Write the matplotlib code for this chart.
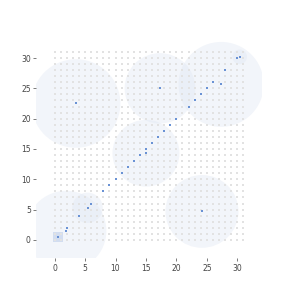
import numpy as np
import matplotlib
matplotlib.use("Agg")
import matplotlib.pyplot as plt
from matplotlib.patches import Circle, Rectangle

# --- DATA ---
grid_n = 32  # lattice 0..31 on both axes

diag_x = [2, 4, 6, 8, 9, 10, 11, 12, 13, 14, 15, 16, 17, 18, 19, 20, 22, 23, 24, 25, 26, 28, 30]
diag_y = [2, 4, 6, 8, 9, 10, 11, 12, 13, 14, 15, 16, 17, 18, 19, 20, 22, 23, 24, 25, 26, 28, 30]

center_x = [1.9, 5.4, 15.0, 3.5, 17.3, 27.35, 24.2, 30.4]
center_y = [1.5, 5.3, 14.3, 22.5, 25.0, 25.65, 4.7, 30.2]
center_r = [6.6, 2.5, 5.5, 7.3, 5.8, 7.0, 6.0, 1.2]

seed_x = [0.55]
seed_y = [0.5]
seed_side = 1.6

ticks = [0, 5, 10, 15, 20, 25, 30]

# --- PLOT ---
fig = plt.figure(figsize=(2.91, 2.91), dpi=100)
ax = fig.add_axes([0.125, 0.113, 0.774, 0.771])

for cx, cy, r in zip(center_x, center_y, center_r):
    ax.add_patch(Circle((cx, cy), r, facecolor="#dfe6f3", edgecolor="none", alpha=0.4, zorder=1))

for sx, sy in zip(seed_x, seed_y):
    ax.add_patch(Rectangle((sx - seed_side / 2, sy - seed_side / 2), seed_side, seed_side,
                           facecolor="#c5d3ec", edgecolor="none", alpha=0.7, zorder=2))

gx, gy = np.meshgrid(np.arange(grid_n), np.arange(grid_n))
ax.scatter(gx.ravel(), gy.ravel(), s=1.4, marker="s", color="#e2e2e2", linewidths=0, zorder=3)

ax.scatter(diag_x, diag_y, s=2.0, marker="s", color="#6a92d4", linewidths=0, zorder=4)
ax.scatter(center_x, center_y, s=2.0, marker="s", color="#6a92d4", linewidths=0, zorder=4)
ax.scatter(seed_x, seed_y, s=2.0, marker="s", color="#6a92d4", linewidths=0, zorder=4)

ax.set_xlim(-3, 34)
ax.set_ylim(-3, 34)
ax.set_xticks(ticks)
ax.set_yticks(ticks)
for s in ax.spines.values():
    s.set_visible(False)
ax.tick_params(labelsize=5.5, length=2, width=0.6, color="#666666", labelcolor="#444444", pad=2)

fig.savefig("out.png", dpi=100, facecolor="white")
